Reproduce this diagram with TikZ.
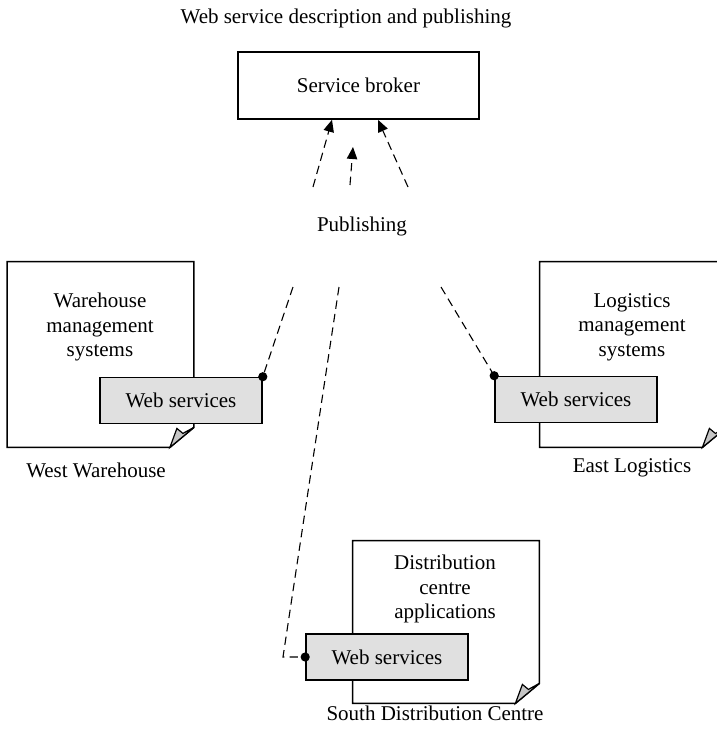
\documentclass[tikz,border=0pt]{standalone}
\usepackage{fontspec}
\setmainfont{Liberation Serif}
\usetikzlibrary{arrows.meta,positioning,calc}
\definecolor{wsgray}{RGB}{224,224,224}
\definecolor{flapgray}{RGB}{198,198,198}

\begin{document}
\begin{tikzpicture}[
    x=0.5pt, y=-0.5pt,
    every node/.style={font=\fontsize{10.5}{12.3}\selectfont},
    page/.style={rectangle, inner sep=0pt, minimum width=93pt, minimum height=#1},
    outline/.style={draw, line width=0.8pt},
    flap/.style={draw, line width=0.6pt, fill=flapgray},
    ws/.style={draw, line width=0.8pt, fill=wsgray, minimum width=81pt, minimum height=23pt, inner sep=0pt},
    txt/.style={align=center, inner sep=0pt},
    pub/.style={dash pattern=on 4.2pt off 2.6pt, line width=0.55pt},
    arr/.style={pub, -{Triangle[length=6pt, width=5.2pt]}},
    dot/.style={circle, fill=black, inner sep=0pt, minimum size=4.6pt}
]
\useasboundingbox (0,0) rectangle (717,736);
\clip (0,0) rectangle (717,736);

\node[txt] (title) at (346,18) {Web service description and publishing};
\node[outline, minimum width=120.5pt, minimum height=33.5pt, inner sep=0pt] (broker) at (358.5,85.5) {Service broker};
\node[txt] (publish) at (362,226) {Publishing};

% publishing arrows
\coordinate (t1) at (313,187);
\coordinate (t2) at (350,185);
\coordinate (t3) at (408,187);
\coordinate (h2) at (353,147);
\draw[arr] (t1) -- ($(broker.south)+(-26.5,0)$);
\draw[arr] (t2) -- (h2);
\draw[arr] (t3) -- ($(broker.south)+(19.5,0)$);

% pages
\node[page=92.5pt] (west) at (100.5,354.5) {};
\node[page=92.5pt] (east) at (633,354.5) {};
\node[page=81pt] (south) at (446,622) {};

\draw[outline] (west.south west) -- (west.north west) -- (west.north east) -- ($(west.south east)+(0,-20)$) -- ($(west.south east)+(-24,0)$) -- cycle;
\draw[flap] ($(west.south east)+(-24,0)$) -- ($(west.south east)+(-17,-19)$) -- ($(west.south east)+(-11,-14)$) -- ($(west.south east)+(0,-20)$) -- cycle;
\draw[outline] (east.south west) -- (east.north west) -- (east.north east) -- ($(east.south east)+(0,-20)$) -- ($(east.south east)+(-24,0)$) -- cycle;
\draw[flap] ($(east.south east)+(-24,0)$) -- ($(east.south east)+(-17,-19)$) -- ($(east.south east)+(-11,-14)$) -- ($(east.south east)+(0,-20)$) -- cycle;
\draw[outline] (south.south west) -- (south.north west) -- (south.north east) -- ($(south.south east)+(0,-20)$) -- ($(south.south east)+(-24,0)$) -- cycle;
\draw[flap] ($(south.south east)+(-24,0)$) -- ($(south.south east)+(-17,-19)$) -- ($(south.south east)+(-11,-14)$) -- ($(south.south east)+(0,-20)$) -- cycle;

\node[txt] (wtxt) at (100,327) {Warehouse\\management\\systems};
\node[txt] (etxt) at (632,327) {Logistics\\management\\systems};
\node[txt] (stxt) at (445,589) {Distribution\\centre\\applications};

\node[txt] (wcap) at (96,470) {West Warehouse};
\node[txt] (ecap) at (632,468) {East Logistics};
\node[txt] (scap) at (435,713) {South Distribution Centre};

% web services
\node[ws] (wws) at (181,400.5) {Web services};
\node[ws] (ews) at (576,399.5) {Web services};
\node[ws] (sws) at (387,657) {Web services};

% publishing links
\coordinate (p1) at (293,287);
\coordinate (p2) at (339,287);
\coordinate (p3) at (441,287);
\coordinate (bend) at (283,657);
\draw[pub] (p1) -- (wws.north east);
\draw[pub] (p3) -- (ews.north west);
\draw[pub] (p2) -- (bend) -- (sws.west);
\node[dot] (d1) at (wws.north east) {};
\node[dot] (d2) at (ews.north west) {};
\node[dot] (d3) at (sws.west) {};
\end{tikzpicture}
\end{document}
